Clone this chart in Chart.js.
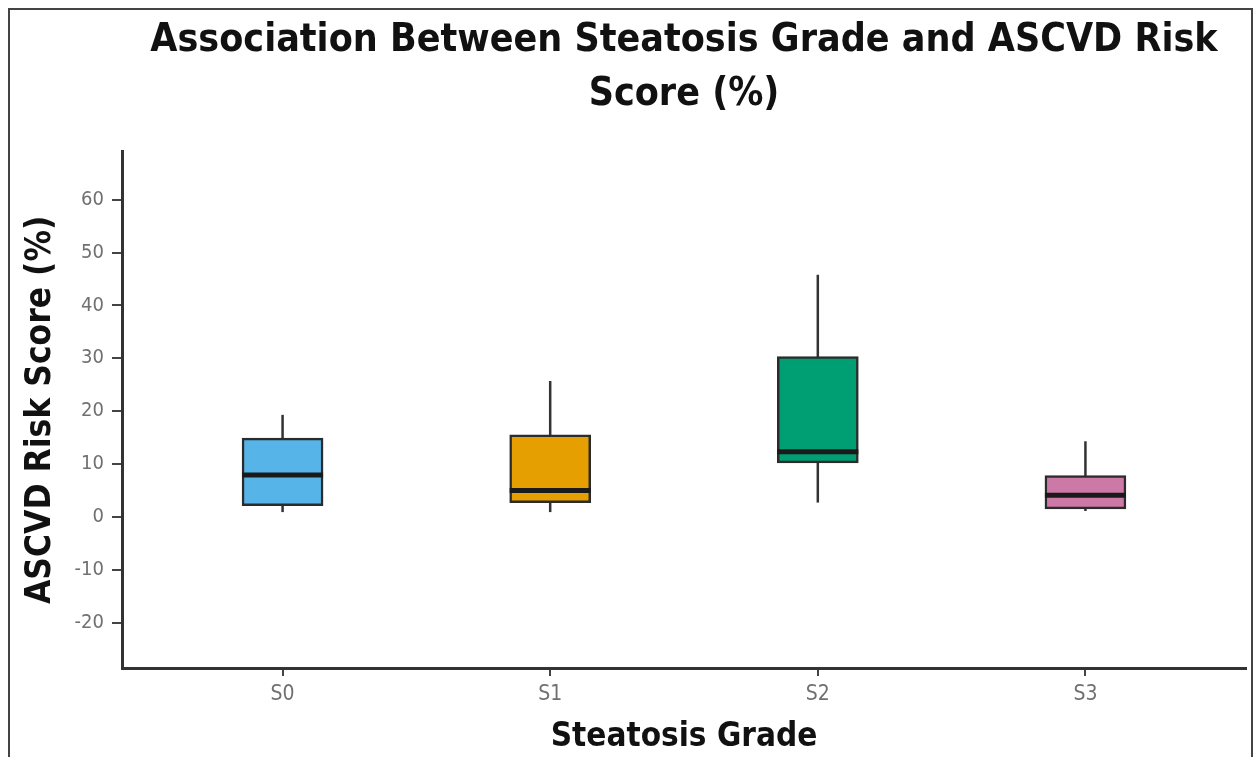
<!DOCTYPE html>
<html>
<head>
<meta charset="utf-8">
<script src="https://cdn.jsdelivr.net/npm/chart.js@4.4.1/dist/chart.umd.min.js"></script>
<style>
  html, body { margin: 0; padding: 0; background: #fff; }
  #wrap { position: relative; width: 1254px; height: 757px; overflow: hidden; }
  #frame { position: absolute; left: 8px; top: 8px; width: 1245px; height: 800px;
           border: 2px solid #444; box-sizing: border-box; pointer-events: none; }
</style>
</head>
<body>
<div id="wrap">
  <canvas id="boxChart" width="1254" height="757"></canvas>
  <div id="frame"></div>
</div>
<script>
const grades = ["S0", "S1", "S2", "S3"];
const whiskerLow = [0.9, 0.9, 2.7, 1.1];
const q1 = [2.1, 2.7, 10.2, 1.5];
const median = [7.9, 5.0, 12.3, 4.1];
const q3 = [14.9, 15.5, 30.3, 7.8];
const whiskerHigh = [19.3, 25.7, 45.8, 14.3];
const boxColors = ["#56B4E9", "#E69F00", "#009E73", "#CC79A7"];
const yTicks = [-20, -10, 0, 10, 20, 30, 40, 50, 60];

const fontFam = "'DejaVu Sans Condensed', 'DejaVu Sans', sans-serif";

// whiskers go under the boxes, medians on top
const boxParts = {
    id: "boxParts",
    beforeDatasetsDraw(chart) {
        const { ctx, scales: { x, y } } = chart;
        ctx.save();
        ctx.strokeStyle = "#333";
        ctx.lineWidth = 2.5;
        grades.forEach((g, i) => {
            const px = x.getPixelForValue(i + 1);
            ctx.beginPath();
            ctx.moveTo(px, y.getPixelForValue(whiskerLow[i]));
            ctx.lineTo(px, y.getPixelForValue(whiskerHigh[i]));
            ctx.stroke();
        });
        ctx.restore();
    },
    afterDatasetsDraw(chart) {
        const { ctx, scales: { y } } = chart;
        const meta = chart.getDatasetMeta(0);
        ctx.save();
        ctx.strokeStyle = "#1a1a1a";
        ctx.lineWidth = 5;
        grades.forEach((g, i) => {
            const bar = meta.data[i];
            const py = y.getPixelForValue(median[i]);
            ctx.beginPath();
            ctx.moveTo(bar.x - bar.width / 2, py);
            ctx.lineTo(bar.x + bar.width / 2, py);
            ctx.stroke();
        });
        ctx.restore();
    },
};

document.addEventListener("DOMContentLoaded", () => {
    const ctx = document.getElementById("boxChart").getContext("2d");

    new Chart(ctx, {
        type: "bar",
        data: {
            datasets: [
                {
                    label: "ASCVD Risk Score (%)",
                    data: grades.map((g, i) => ({ x: i + 1, y: [q1[i], q3[i]] })),
                    backgroundColor: boxColors,
                    borderColor: "#2b2b2b",
                    borderWidth: 2.5,
                    borderSkipped: false,
                    barThickness: 81,
                },
            ],
        },
        options: {
            responsive: false,
            animation: false,
            layout: { padding: { left: 0, right: 8, top: 0, bottom: 0 } },
            plugins: {
                legend: { display: false },
                tooltip: { enabled: false },
                title: {
                    display: true,
                    fullSize: false,
                    text: ["Association Between Steatosis Grade and ASCVD Risk", "Score (%)"],
                    color: "#111",
                    font: { family: fontFam, size: 39, weight: "bold", lineHeight: 1.38 },
                    padding: { top: 14, bottom: 30 },
                },
            },
            scales: {
                x: {
                    type: "linear",
                    min: 0.4,
                    max: 4.6,
                    offset: false,
                    afterFit(scale) { scale.height = 89; },
                    ticks: {
                        stepSize: 1,
                        includeBounds: false,
                        autoSkip: false,
                        maxRotation: 0,
                        color: "#707070",
                        padding: 6,
                        font: { family: fontFam, size: 21 },
                        callback: (v) => grades[v - 1],
                    },
                    grid: { offset: false, drawOnChartArea: false, drawTicks: true, tickLength: 8, color: "#444", lineWidth: 2 },
                    border: { color: "#333", width: 3 },
                    title: {
                        display: true,
                        text: "Steatosis Grade",
                        color: "#111",
                        font: { family: fontFam, size: 33, weight: "bold" },
                        padding: { top: 0, bottom: 0 },
                    },
                },
                y: {
                    min: -28.6,
                    max: 69.1,
                    afterFit(scale) { scale.width = 122; },
                    afterBuildTicks(scale) { scale.ticks = yTicks.map((v) => ({ value: v })); },
                    ticks: {
                        color: "#707070",
                        padding: 8,
                        font: { family: fontFam, size: 20 },
                    },
                    grid: { drawOnChartArea: false, drawTicks: true, tickLength: 10, color: "#444", lineWidth: 2 },
                    border: { color: "#333", width: 3 },
                    title: {
                        display: true,
                        text: "ASCVD Risk Score (%)",
                        color: "#111",
                        font: { family: fontFam, size: 35, weight: "bold" },
                        padding: { top: 20, bottom: 0 },
                    },
                },
            },
        },
        plugins: [boxParts],
    });
});
</script>
</body>
</html>
